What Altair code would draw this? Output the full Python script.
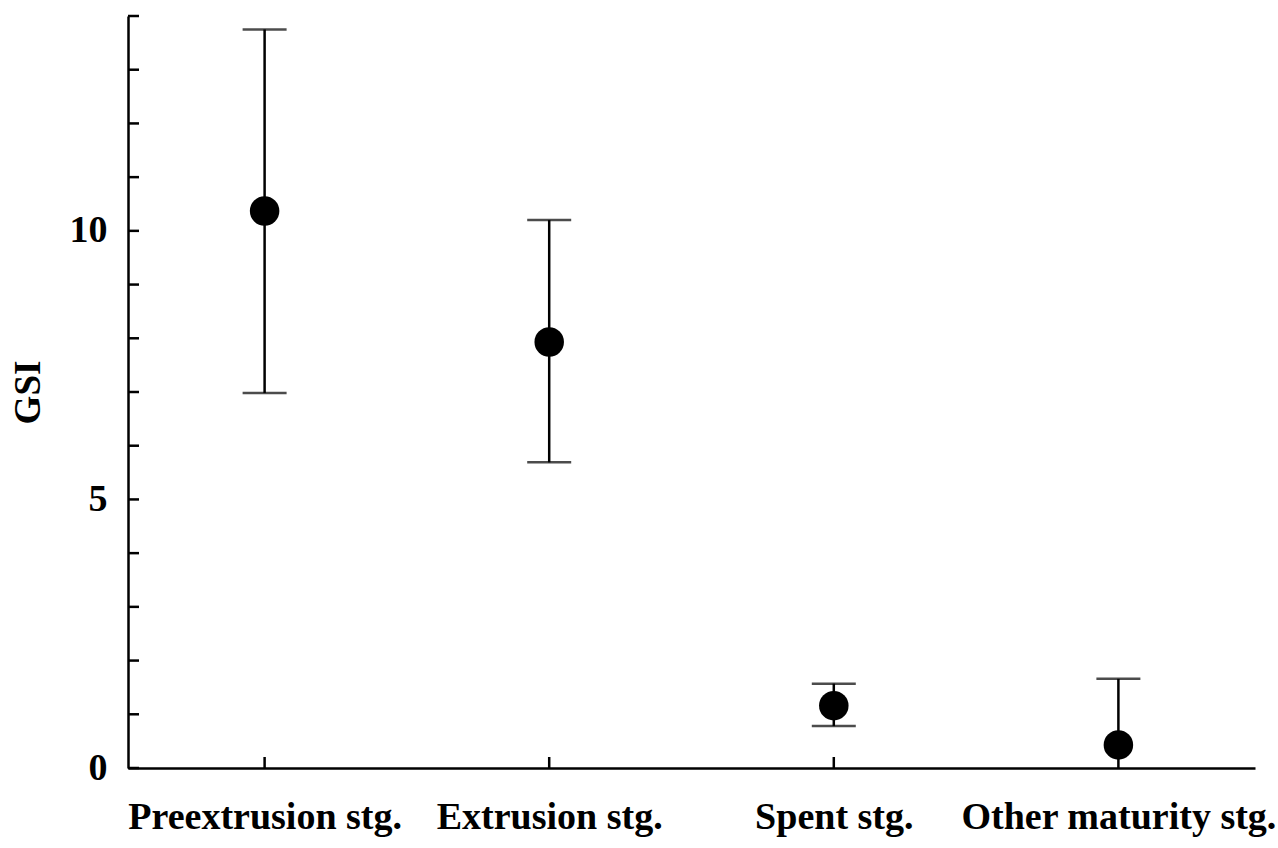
import altair as alt
import pandas as pd
import numpy as np

stages = ["Preextrusion stg.", "Extrusion stg.", "Spent stg.", "Other maturity stg."]
gsi_mean = [10.37, 7.93, 1.16, 0.43]
gsi_upper = [13.75, 10.2, 1.57, 1.66]
gsi_lower = [6.98, 5.69, 0.78, np.nan]
y_ticks = list(range(0, 15))
y_labels = [0, 5, 10]

W, H = 1127, 752
FONT = "Liberation Serif"
SW = 2.5

df = pd.DataFrame({"stage": stages, "mean": gsi_mean, "upper": gsi_upper, "lower": gsi_lower})
ticks_df = pd.DataFrame({"t": y_ticks})

x_scale = alt.Scale(type="point", domain=stages, padding=0.48)
y_scale = alt.Scale(domain=[0, 14], nice=False, zero=True)

x_axis = alt.Axis(title=None, domain=True, domainColor="black", domainWidth=SW,
                  ticks=False, labelFont=FONT, labelFontWeight="bold", labelFontSize=38,
                  labelColor="black", labelPadding=30, labelAngle=0, labelLimit=0,
                  labelOverlap=False)
y_axis = alt.Axis(title="GSI", values=y_labels, domain=True, domainColor="black", domainWidth=SW,
                  ticks=False, grid=False, labelFont=FONT, labelFontWeight="bold", labelFontSize=38,
                  labelColor="black", labelPadding=21, titleFont=FONT, titleFontWeight="bold",
                  titleFontSize=37, titleColor="black", titlePadding=22)

base = alt.Chart(df)

axes_layer = base.mark_point(opacity=0).encode(
    x=alt.X("stage:N", scale=x_scale, axis=x_axis, sort=stages),
    y=alt.Y("mean:Q", scale=y_scale, axis=y_axis),
)

upper_rule = base.mark_rule(color="black", strokeWidth=SW).encode(
    x=alt.X("stage:N", scale=x_scale, sort=stages),
    y=alt.Y("mean:Q", scale=y_scale),
    y2="upper:Q",
)
lower_rule = base.mark_rule(color="black", strokeWidth=SW).encode(
    x=alt.X("stage:N", scale=x_scale, sort=stages),
    y=alt.Y("lower:Q", scale=y_scale),
    y2="mean:Q",
)
upper_cap = base.mark_tick(color="black", thickness=SW, size=44, orient="horizontal").encode(
    x=alt.X("stage:N", scale=x_scale, sort=stages),
    y=alt.Y("upper:Q", scale=y_scale),
)
lower_cap = base.mark_tick(color="black", thickness=SW, size=44, orient="horizontal").encode(
    x=alt.X("stage:N", scale=x_scale, sort=stages),
    y=alt.Y("lower:Q", scale=y_scale),
)
points = base.mark_point(filled=True, color="black", opacity=1, size=870).encode(
    x=alt.X("stage:N", scale=x_scale, sort=stages),
    y=alt.Y("mean:Q", scale=y_scale),
)

y_tick_marks = alt.Chart(ticks_df).mark_rule(color="black", strokeWidth=SW).encode(
    x=alt.value(0), x2=alt.value(11),
    y=alt.Y("t:Q", scale=y_scale),
)
x_tick_marks = base.mark_rule(color="black", strokeWidth=SW).encode(
    x=alt.X("stage:N", scale=x_scale, sort=stages),
    y=alt.value(H), y2=alt.value(H - 11),
)

chart = alt.layer(
    axes_layer, y_tick_marks, x_tick_marks, upper_rule, lower_rule, upper_cap, lower_cap, points
).properties(
    width=W, height=H,
    autosize=alt.AutoSizeParams(type="none"),
    padding={"left": 128, "top": 16, "right": 23, "bottom": 80},
    background="white",
).configure_view(stroke=None)

chart.save("out.html", embed_options={"renderer": "svg", "actions": False})
